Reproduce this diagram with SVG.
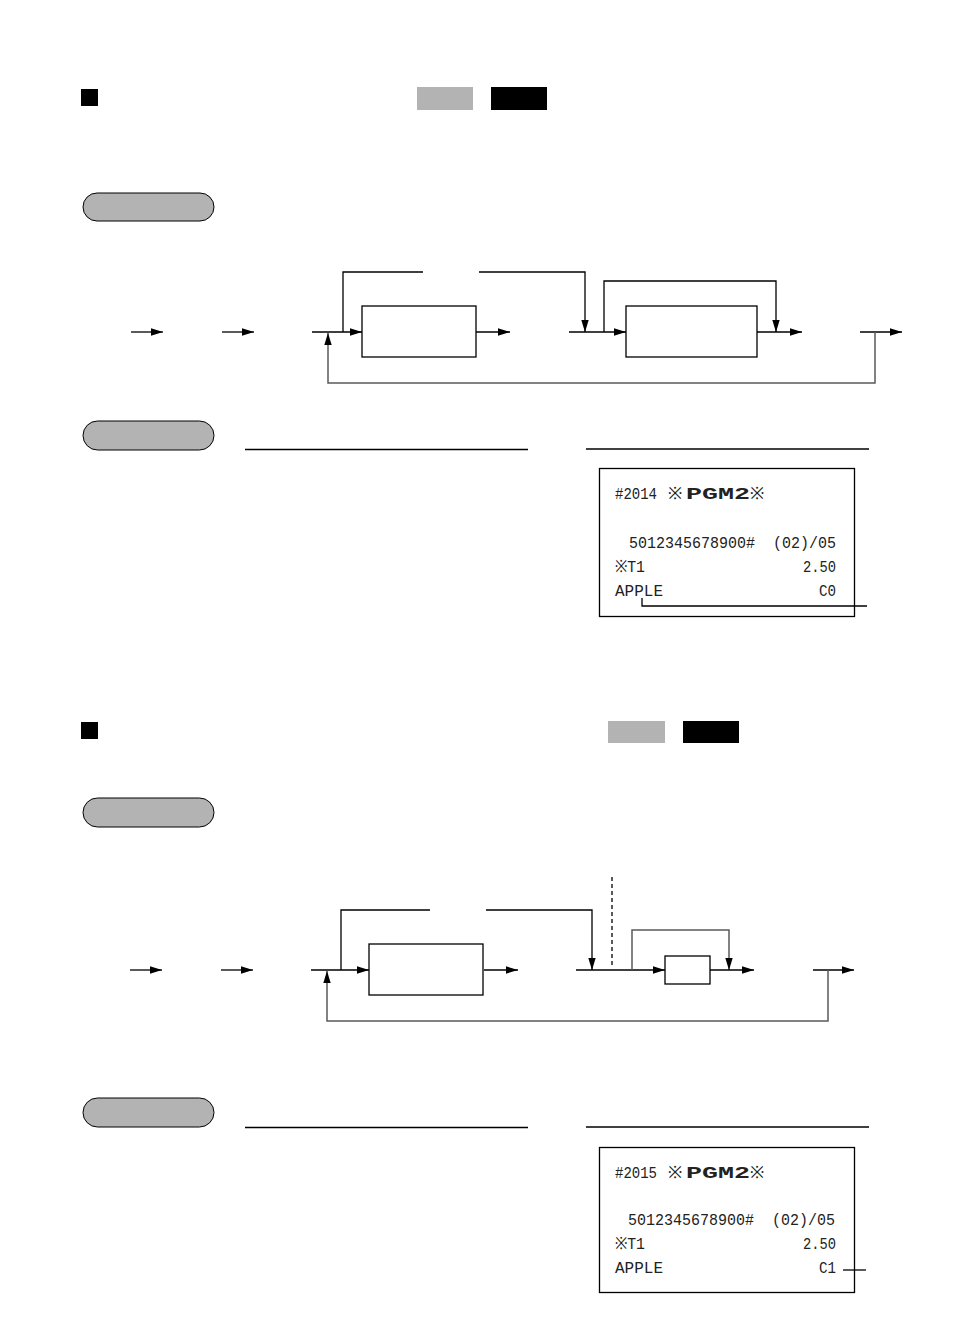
<svg xmlns="http://www.w3.org/2000/svg" width="968" height="1317" viewBox="0 0 968 1317">
<style>
.ln{fill:none;stroke:#000;stroke-width:1.3}
.gl{fill:none;stroke:#5a5a5a;stroke-width:1.5}
.box{fill:#fff;stroke:#000;stroke-width:1.3}
.pill{fill:#b3b3b3;stroke:#000;stroke-width:1}
.rule{stroke:#000;stroke-width:1.3}
.rc{font-family:"Liberation Mono","DejaVu Sans Mono",monospace;font-size:17px;fill:#222;white-space:pre}
.big{font-family:"Liberation Mono","DejaVu Sans Mono",monospace;font-size:17px;font-weight:bold;fill:#222}
</style>
<defs>
<marker id="ah" markerWidth="12" markerHeight="8" refX="12" refY="4" orient="auto" markerUnits="userSpaceOnUse">
<path d="M0,0.3 L12,4 L0,7.7 Z" fill="#000"/>
</marker>
</defs>
<rect width="968" height="1317" fill="#fff"/>

<!-- Section 1 header -->
<g id="hdr1">
<rect x="81" y="89" width="17" height="17" fill="#000"/>
<rect x="417" y="87" width="56" height="23" fill="#b3b3b3"/>
<rect x="491" y="87" width="56" height="23" fill="#000"/>
</g>
<g id="pill1"><rect class="pill" x="83" y="193" width="131" height="28" rx="14"/></g>

<!-- Flow 1 nodes -->
<g id="f1box1"><rect class="box" x="362" y="306" width="114" height="51"/></g>
<g id="f1box2"><rect class="box" x="626" y="306" width="131" height="51"/></g>

<g id="f1conn">
<line class="ln" x1="131" y1="332" x2="163" y2="332" marker-end="url(#ah)"/>
<line class="ln" x1="222" y1="332" x2="254" y2="332" marker-end="url(#ah)"/>
<line class="ln" x1="312" y1="332" x2="362" y2="332" marker-end="url(#ah)"/>
<polyline class="ln" points="343,332 343,272 423,272"/>
<polyline class="ln" points="479,272 585,272 585,332" marker-end="url(#ah)"/>
<line class="ln" x1="476" y1="332" x2="510" y2="332" marker-end="url(#ah)"/>
<line class="ln" x1="569" y1="332" x2="626" y2="332" marker-end="url(#ah)"/>
<polyline class="ln" points="604,332 604,281 776,281 776,332" marker-end="url(#ah)"/>
<line class="ln" x1="757" y1="332" x2="802" y2="332" marker-end="url(#ah)"/>
<line class="ln" x1="860" y1="332" x2="902" y2="332" marker-end="url(#ah)"/>
<polyline class="gl" points="875,332 875,383 328,383 328,333" marker-end="url(#ah)"/>
</g>

<g id="pill2"><rect class="pill" x="83" y="421" width="131" height="29" rx="14.5"/></g>
<line class="rule" x1="245" y1="449.5" x2="528" y2="449.5"/>
<line class="rule" x1="586" y1="449" x2="869" y2="449"/>

<g id="receipt1">
<rect x="599.5" y="468.5" width="255" height="148" fill="#fff" stroke="#000" stroke-width="1.3"/>
<text class="rc" x="615" y="499" textLength="42" lengthAdjust="spacingAndGlyphs">#2014</text>
<text class="rc" x="668" y="499">※</text>
<text class="big" x="686" y="499" textLength="64" lengthAdjust="spacingAndGlyphs">PGM2</text>
<text class="rc" x="750" y="499">※</text>
<text class="rc" x="629" y="548" textLength="207" lengthAdjust="spacingAndGlyphs" xml:space="preserve">5012345678900#  (02)/05</text>
<text class="rc" x="615" y="572" textLength="30" lengthAdjust="spacingAndGlyphs">※T1</text>
<text class="rc" x="803" y="572" textLength="33" lengthAdjust="spacingAndGlyphs">2.50</text>
<text class="rc" x="615" y="596" textLength="48" lengthAdjust="spacingAndGlyphs">APPLE</text>
<text class="rc" x="819" y="596" textLength="17" lengthAdjust="spacingAndGlyphs">C0</text>
<polyline class="ln" points="642,598 642,606 867,606"/>
</g>

<!-- Section 2 header -->
<g id="hdr2">
<rect x="81" y="722" width="17" height="17" fill="#000"/>
<rect x="608" y="721" width="57" height="22" fill="#b3b3b3"/>
<rect x="683" y="721" width="56" height="22" fill="#000"/>
</g>
<g id="pill3"><rect class="pill" x="83" y="798" width="131" height="29" rx="14.5"/></g>

<!-- Flow 2 nodes -->
<g id="f2box1"><rect class="box" x="369" y="944" width="114" height="51"/></g>
<g id="f2box2"><rect class="box" x="665" y="956" width="45" height="28"/></g>

<g id="f2conn">
<line class="ln" x1="130" y1="970" x2="162" y2="970" marker-end="url(#ah)"/>
<line class="ln" x1="221" y1="970" x2="253" y2="970" marker-end="url(#ah)"/>
<line class="ln" x1="311" y1="970" x2="369" y2="970" marker-end="url(#ah)"/>
<polyline class="ln" points="341,970 341,910 430,910"/>
<polyline class="ln" points="486,910 592,910 592,970" marker-end="url(#ah)"/>
<line class="ln" x1="484" y1="970" x2="518" y2="970" marker-end="url(#ah)"/>
<line class="ln" x1="576" y1="970" x2="665" y2="970" marker-end="url(#ah)"/>
<line x1="612" y1="877" x2="612" y2="968" stroke="#000" stroke-width="1.3" stroke-dasharray="4,3"/>
<polyline class="gl" points="632,970 632,930 729,930 729,970" marker-end="url(#ah)"/>
<line class="ln" x1="710" y1="970" x2="754" y2="970" marker-end="url(#ah)"/>
<line class="ln" x1="813" y1="970" x2="854" y2="970" marker-end="url(#ah)"/>
<polyline class="gl" points="828,970 828,1021 327,1021 327,971" marker-end="url(#ah)"/>
</g>

<g id="pill4"><rect class="pill" x="83" y="1098" width="131" height="29" rx="14.5"/></g>
<line class="rule" x1="245" y1="1127.5" x2="528" y2="1127.5"/>
<line class="rule" x1="586" y1="1127" x2="869" y2="1127"/>

<g id="receipt2">
<rect x="599.5" y="1147.5" width="255" height="145" fill="#fff" stroke="#000" stroke-width="1.3"/>
<text class="rc" x="615" y="1178" textLength="42" lengthAdjust="spacingAndGlyphs">#2015</text>
<text class="rc" x="668" y="1178">※</text>
<text class="big" x="686" y="1178" textLength="64" lengthAdjust="spacingAndGlyphs">PGM2</text>
<text class="rc" x="750" y="1178">※</text>
<text class="rc" x="628" y="1225" textLength="207" lengthAdjust="spacingAndGlyphs" xml:space="preserve">5012345678900#  (02)/05</text>
<text class="rc" x="615" y="1249" textLength="30" lengthAdjust="spacingAndGlyphs">※T1</text>
<text class="rc" x="803" y="1249" textLength="33" lengthAdjust="spacingAndGlyphs">2.50</text>
<text class="rc" x="615" y="1273" textLength="48" lengthAdjust="spacingAndGlyphs">APPLE</text>
<text class="rc" x="819" y="1273" textLength="17" lengthAdjust="spacingAndGlyphs">C1</text>
<line class="ln" x1="843" y1="1270" x2="866" y2="1270"/>
</g>
</svg>
